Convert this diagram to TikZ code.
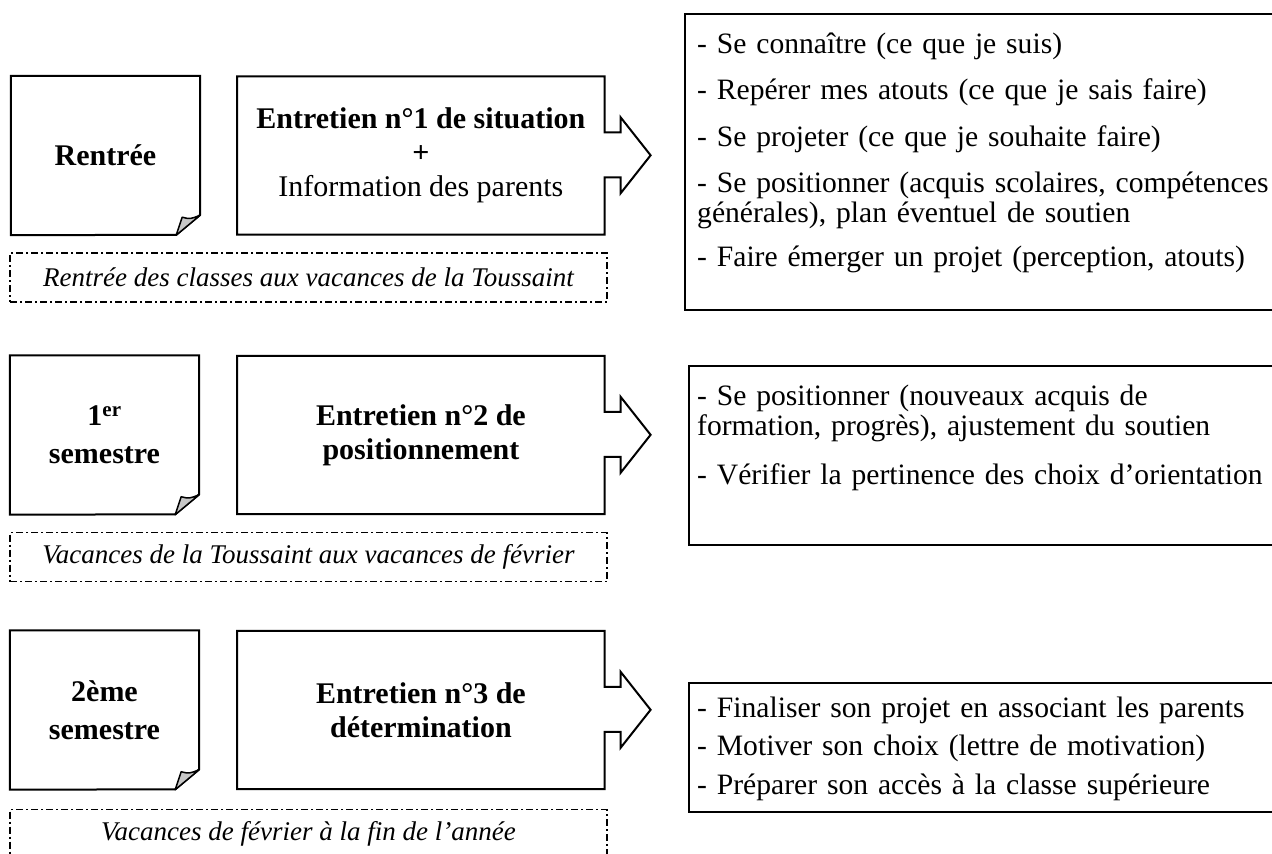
\documentclass[tikz,border=0pt]{standalone}
\usepackage{fontspec}
\setmainfont{Liberation Serif}
\usetikzlibrary{positioning}

\newcommand\goalfont{\fontsize{29.6}{30}\selectfont\lineskiplimit=-20pt\relax\hyphenpenalty=10000\relax}

\tikzset{
  note/.style={minimum width=189pt, minimum height=159pt, inner sep=0pt, align=center,
    font=\bfseries\fontsize{30}{38}\selectfont},
  talk/.style={minimum width=367pt, minimum height=158pt, inner sep=0pt, align=center,
    font=\fontsize{30}{34}\selectfont},
  period/.style={draw, line width=1.2pt, dash pattern=on 7pt off 3pt on 2pt off 3pt,
    minimum width=597pt, minimum height=49pt, inner sep=0pt, font=\itshape\fontsize{27}{32}\selectfont},
  panel/.style={anchor=north west, inner sep=0pt},
  goals/.style={anchor=north west, text width=590pt, inner sep=0pt, align=left, font=\goalfont},
  frame/.style={line width=2pt, line join=miter},
  fold/.style={fill=black!22, line width=1.5pt, line join=round},
}

\begin{document}
\begin{tikzpicture}[x=1pt, y=-1pt]
  \useasboundingbox (0,0) rectangle (1272,854);

  % Rentree
  \node[note] (rentree) at (105.5,155.5) {Rentrée};
  \node[talk, right=37pt of rentree] (ent1)
    {\textbf{Entretien n°1 de situation}\\\textbf{+}\\Information des parents};
  \node[period] (per1) at (308.5,277.5) {Rentrée des classes aux vacances de la Toussaint};
  \node[panel, minimum width=587pt, minimum height=296pt] (obj1) at (685,14) {};
  \node[goals] (txt1) at (697,31)
    {\rule{0pt}{22pt}- Se connaître (ce que je suis)\\[16.5pt]
     - Repérer mes atouts (ce que je sais faire)\\[16.5pt]
     - Se projeter (ce que je souhaite faire)\\[16.5pt]
     - Se positionner (acquis scolaires, compétences\\
     générales), plan éventuel de soutien\\[13.5pt]
     - Faire émerger un projet (perception, atouts)};

  % 1er semestre
  \node[note] (sem1) at (104.5,435) {1\textsuperscript{er}\\semestre};
  \node[talk, right=38pt of sem1] (ent2) {\textbf{Entretien n°2 de}\\\textbf{positionnement}};
  \node[period] (per2) at (308.5,557) {Vacances de la Toussaint aux vacances de février};
  \node[panel, minimum width=583pt, minimum height=179pt] (obj2) at (689,366) {};
  \node[goals] (txt2) at (697,383)
    {\rule{0pt}{22pt}- Se positionner (nouveaux acquis de\\
     formation, progrès), ajustement du soutien\\[19pt]
     - Vérifier la pertinence des choix d’orientation};

  % 2eme semestre
  \node[note] (sem2) at (104.5,710) {2ème\\semestre};
  \node[talk, right=38pt of sem2] (ent3) {\textbf{Entretien n°3 de}\\\textbf{détermination}};
  \node[period] (per3) at (308.5,834) {Vacances de février à la fin de l’année};
  \node[panel, minimum width=583pt, minimum height=129pt] (obj3) at (689,683) {};
  \node[goals] (txt3) at (697,695)
    {\rule{0pt}{22pt}- Finaliser son projet en associant les parents\\[8.5pt]
     - Motiver son choix (lettre de motivation)\\[8.5pt]
     - Préparer son accès à la classe supérieure};

  % outlines
  \draw[frame] (rentree.north west) -- (rentree.north east) -- ++(0,139) -- ++(-24,20) -- (rentree.south west) -- cycle;
  \filldraw[fold, shift={(rentree.south east)}] (-24,0) -- (-18,-18) .. controls (-10,-16) .. (0,-20) -- cycle;
  \draw[frame] (sem1.north west) -- (sem1.north east) -- ++(0,139) -- ++(-24,20) -- (sem1.south west) -- cycle;
  \filldraw[fold, shift={(sem1.south east)}] (-24,0) -- (-18,-18) .. controls (-10,-16) .. (0,-20) -- cycle;
  \draw[frame] (sem2.north west) -- (sem2.north east) -- ++(0,139) -- ++(-24,20) -- (sem2.south west) -- cycle;
  \filldraw[fold, shift={(sem2.south east)}] (-24,0) -- (-18,-18) .. controls (-10,-16) .. (0,-20) -- cycle;

  \draw[frame] (ent1.north west) -- (ent1.north east) -- ++(0,56) -- ++(16,0) -- ++(0,-15) -- ++(30,38)
    -- ++(-30,38) -- ++(0,-16) -- ++(-16,0) -- (ent1.south east) -- (ent1.south west) -- cycle;
  \draw[frame] (ent2.north west) -- (ent2.north east) -- ++(0,56) -- ++(16,0) -- ++(0,-15) -- ++(30,38)
    -- ++(-30,38) -- ++(0,-16) -- ++(-16,0) -- (ent2.south east) -- (ent2.south west) -- cycle;
  \draw[frame] (ent3.north west) -- (ent3.north east) -- ++(0,56) -- ++(16,0) -- ++(0,-15) -- ++(30,38)
    -- ++(-30,38) -- ++(0,-16) -- ++(-16,0) -- (ent3.south east) -- (ent3.south west) -- cycle;

  \draw[frame] (obj1.north east) -- (obj1.north west) -- (obj1.south west) -- (obj1.south east);
  \draw[frame] (obj2.north east) -- (obj2.north west) -- (obj2.south west) -- (obj2.south east);
  \draw[frame] (obj3.north east) -- (obj3.north west) -- (obj3.south west) -- (obj3.south east);
\end{tikzpicture}
\end{document}
